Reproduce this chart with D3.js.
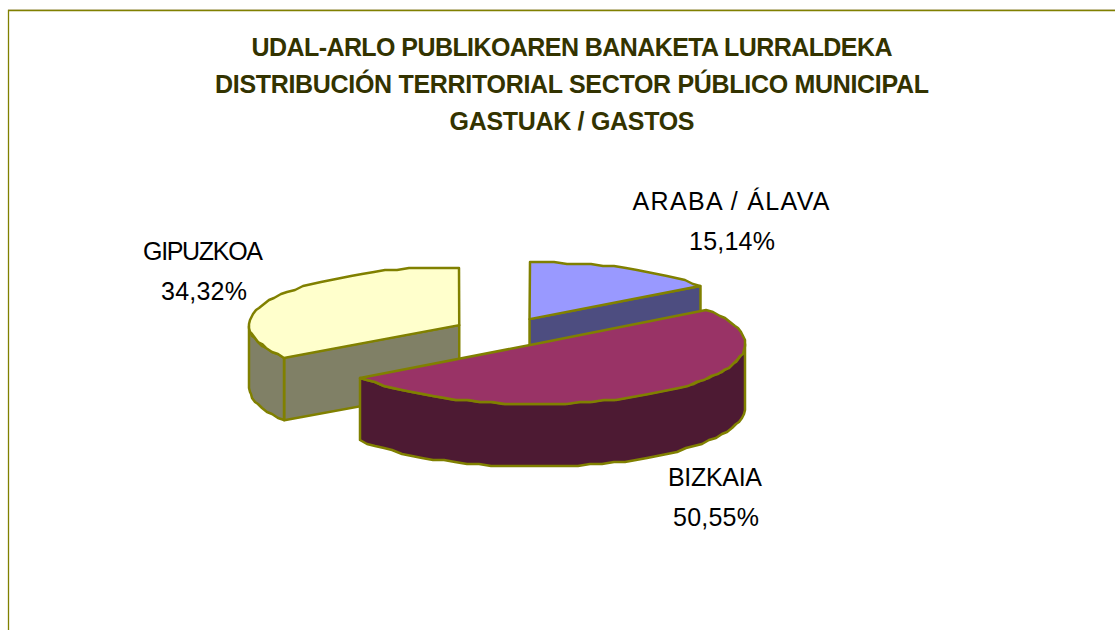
<!DOCTYPE html>
<meta charset="utf-8">
<html>
<body style="margin:0;background:#fff">
<script src="https://d3js.org/d3.v7.min.js"></script>
<script>
    // chart data
    const categories = ["ARABA / ÁLAVA", "BIZKAIA", "GIPUZKOA"];
    const shares = [15.14, 50.55, 34.32];
    const shareLabels = ["15,14%", "50,55%", "34,32%"];
    const titleLines = [
        "UDAL-ARLO PUBLIKOAREN BANAKETA LURRALDEKA",
        "DISTRIBUCIÓN TERRITORIAL SECTOR PÚBLICO MUNICIPAL",
        "GASTUAK / GASTOS"
    ];
    const topColors = ["#9999ff", "#993366", "#ffffcc"];
    const sideColors = ["#4d4d80", "#4d1a33", "#808066"];

    const width = 1115, height = 630;
    // pie geometry: tilted ellipse, slices pushed out along their middle angle
    const cx = 505.5, cy = 332, rx = 210, depth = 63, explodeX = 52.5, explodeY = 14.5;
    const tilt = [57, 60, 58]; // front slice looks a bit taller in the original
    const border = "#808000";

    const svg = d3.select("body").append("svg")
        .attr("width", width)
        .attr("height", height)
        .style("display", "block");

    // chart frame
    svg.append("path")
        .attr("d", "M8,9.5H1115")
        .attr("fill", "none")
        .attr("stroke", "#ddd6c8");
    svg.append("path")
        .attr("d", "M8.5,630V10.5H1115")
        .attr("fill", "none")
        .attr("stroke", border)
        .attr("stroke-width", 1.3);

    const pie = d3.pie().sort(null).value(d => d);
    const slices = pie(shares);

    const line = d3.line().curve(d3.curveLinear);

    function center(s) {
        const mid = (s.startAngle + s.endAngle) / 2;
        return [cx + explodeX * Math.sin(mid), cy - explodeY * Math.cos(mid)];
    }

    function point(s, a, dy) {
        const c = center(s);
        return [c[0] + rx * Math.sin(a), c[1] - tilt[s.index] * Math.cos(a) + dy];
    }

    // the original rim is a coarse stepped polygon, so snap points to a rough grid
    function rim(s, a0, a1, dy) {
        const n = Math.max(1, Math.round((a1 - a0) / 0.06));
        return d3.range(n + 1).map(i => {
            const p = point(s, a0 + (a1 - a0) * i / n, dy);
            return [Math.round(p[0]), Math.round(p[1] / 2) * 2];
        });
    }

    function drawShape(g, pts, fill) {
        g.append("path")
            .attr("d", line(pts) + "Z")
            .attr("fill", fill)
            .attr("stroke", border)
            .attr("stroke-width", 2.5)
            .attr("stroke-linejoin", "round");
    }

    // back to front: yellow, blue, then the big slice
    [2, 0, 1].forEach(i => {
        const s = slices[i];
        const g = svg.append("g");
        const c = center(s);
        const dn = p => [p[0], p[1] + depth];

        if (i === 2) {
            // cut face and left outer wall
            const p = point(s, s.startAngle, 0);
            drawShape(g, [c, p, dn(p), dn(c)], sideColors[i]);
            const a0 = s.startAngle, a1 = 1.5 * Math.PI;
            drawShape(g, rim(s, a0, a1, 0).concat(rim(s, a0, a1, depth).reverse()), sideColors[i]);
        } else if (i === 0) {
            const p = point(s, s.endAngle, 0);
            drawShape(g, [c, p, dn(p), dn(c)], sideColors[i]);
        } else {
            const a0 = Math.PI / 2, a1 = s.endAngle;
            drawShape(g, rim(s, a0, a1, 0).concat(rim(s, a0, a1, depth).reverse()), sideColors[i]);
        }
        drawShape(g, [c].concat(rim(s, s.startAngle, s.endAngle, 0)), topColors[i]);
    });

    // title, each line fitted to the width it has in the original
    const titleWidths = [641, 714, 245];
    svg.append("g").selectAll("text")
        .data(titleLines)
        .join("text")
        .attr("x", 572)
        .attr("y", (d, i) => 56 + i * 37)
        .attr("text-anchor", "middle")
        .attr("font-family", "Liberation Sans")
        .attr("font-weight", "bold")
        .attr("font-size", 25)
        .attr("textLength", (d, i) => titleWidths[i])
        .attr("lengthAdjust", "spacing")
        .attr("fill", "#333300")
        .text(d => d);

    // slice labels
    const labelX = [731, 715, 203];
    const labelY = [210, 486, 260];
    const labelWidths = [197, 94, 120];
    const labels = svg.append("g")
        .attr("font-family", "Liberation Sans")
        .attr("font-size", 25)
        .attr("text-anchor", "middle")
        .attr("fill", "#000");
    categories.forEach((c, i) => {
        labels.append("text").attr("x", labelX[i]).attr("y", labelY[i])
            .attr("textLength", labelWidths[i]).text(c);
        labels.append("text").attr("x", labelX[i] + 1).attr("y", labelY[i] + 40)
            .attr("textLength", 86).text(shareLabels[i]);
    });
</script>
</body>
</html>
